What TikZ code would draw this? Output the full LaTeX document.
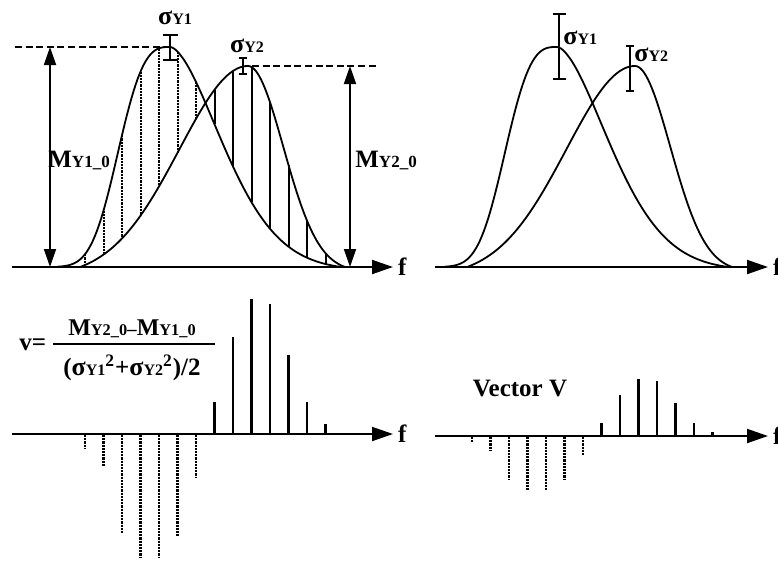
\documentclass[tikz,border=0pt]{standalone}
\usepackage{fontspec}
\setmainfont{Liberation Serif}
\usetikzlibrary{arrows.meta}
\newcommand{\Mlab}[1]{{\fontsize{12.5}{14}\selectfont M}{\fontsize{8.5}{10}\selectfont #1}}
\newcommand{\Slab}[1]{{\fontsize{13}{14}\selectfont σ}{\fontsize{8}{9}\selectfont #1}}

\begin{document}
\begin{tikzpicture}[x=0.5pt,y=-0.5pt,
  declare function={
    ya(\t)=(\t<112) ? exp(-((abs(\t-112)+0.01)/60)^3) : (exp(-((abs(\t-112)+0.01)/73.7)^1.7)-0.015)/0.985;
    yb(\t)=(\t<190) ? (exp(-((abs(\t-190)+0.01)/97)^2)-0.05)/0.95 : (exp(-((abs(\t-190)+0.01)/50)^2)-0.023)/0.977;
  },
  curve/.style={line width=0.9pt},
  axis/.style={line width=1pt,-{Triangle[length=10.5pt,width=7pt]}},
  marrow/.style={line width=0.9pt,{Triangle[length=9pt,width=6pt]}-{Triangle[length=9pt,width=6pt]}},
  guide/.style={line width=0.8pt,dash pattern=on 3.5pt off 1.8pt},
  errbar/.style={line width=1.1pt,{Bar[width=#1]}-{Bar[width=#1]}},
  hatchdot/.style={line width=1pt,dash pattern=on 1.1pt off 0.5pt},
  hatch/.style={line width=1pt},
  dotbar/.style={line width=1.3pt,dash pattern=on 1.1pt off 0.5pt},
  solbar/.style={line width=1.3pt},
  lbl/.style={font=\bfseries,inner sep=0pt}]
\useasboundingbox (0,0) rectangle (778,564);

% top left: the two spectra with the hatching between them
\draw[axis] (12,267) -- (393,267) node[lbl,right=2pt,font=\bfseries\fontsize{12.5}{14}\selectfont] (fa) {f};
\draw[curve] plot[domain=0:283,samples=140] ({58+\x},{267-220*ya(\x)});
\draw[curve] plot[domain=22:287,samples=140] ({58+\x},{267-201*yb(\x)});
\foreach \k in {0,...,6}{
  \pgfmathsetmacro{\t}{27+18.5*\k}
  \draw[hatchdot] ({58+\t},{267-220*ya(\t)}) -- ({58+\t},{267-201*yb(\t)});
}
\foreach \k in {7,...,13}{
  \pgfmathsetmacro{\t}{27+18.5*\k}
  \draw[hatch] ({58+\t},{267-220*ya(\t)}) -- ({58+\t},{267-201*yb(\t)});
}
% peak levels
\draw[guide] (15,47) -- (166,47);
\draw[guide] (252,66) -- (378,66);
\draw[marrow] (50,47) -- (50,267);
\draw[marrow] (350,66) -- (350,267);
\node[lbl,anchor=base west] (my1) at (48,167) {\Mlab{Y1\_0}};
\node[lbl,anchor=base west] (my2) at (355,167) {\Mlab{Y2\_0}};
% spread
\draw[errbar=7.5pt] (170,34) -- (170,61);
\draw[errbar=4pt] (243,57) -- (243,75);
\node[lbl] (sy1a) at (175,18) {\Slab{Y1}};
\node[lbl] (sy2a) at (247,46) {\Slab{Y2}};

% top right: same spectra, larger spread
\draw[axis] (435,267) -- (768,267) node[lbl,right=2pt,font=\bfseries\fontsize{12.5}{14}\selectfont] (fb) {f};
\draw[curve] plot[domain=0:283,samples=140] ({445+\x},{267-220*ya(\x)});
\draw[curve] plot[domain=22:287,samples=140] ({445+\x},{267-201*yb(\x)});
\draw[errbar=6.5pt] (559,13) -- (559,80);
\draw[errbar=4pt] (630,45) -- (630,92);
\node[lbl,anchor=west] (sy1b) at (563,38) {\Slab{Y1}};
\node[lbl,anchor=west] (sy2b) at (634,55) {\Slab{Y2}};

% bottom left: formula and bars
\node[lbl,anchor=base west,font=\bfseries\fontsize{12.5}{14}\selectfont] (vdef) at (19,350) {v=};
\draw[line width=0.8pt] (53,344) -- (215,344);
\node[lbl,anchor=base,scale=0.96] (num) at (132,335) {\Mlab{Y2\_0}--\Mlab{Y1\_0}};
\node[lbl,anchor=base] (den) at (132,375) {\fontsize{12.5}{14}\selectfont(\Slab{Y1}\textsuperscript{2}+\Slab{Y2}\textsuperscript{2})/2};
\draw[axis] (12,434) -- (393,434) node[lbl,right=2pt,font=\bfseries\fontsize{12.5}{14}\selectfont] (fc) {f};
\foreach \k/\h in {0/14,1/31,2/98,3/123,4/123,5/101,6/43}{
  \draw[dotbar] ({85+18.5*\k},435) -- ++(0,\h);
}
\foreach \k/\h in {7/32,8/97,9/135,10/130,11/79,12/32,13/10}{
  \draw[solbar] ({85+18.5*\k},434) -- ++(0,-\h);
}

% bottom right: vector V
\node[lbl,font=\bfseries\fontsize{12.5}{14}\selectfont] (vecv) at (520,388) {Vector V};
\draw[axis] (435,436) -- (768,436) node[lbl,right=2pt,font=\bfseries\fontsize{12.5}{14}\selectfont] (fd) {f};
\foreach \k/\h in {0/14,1/31,2/98,3/123,4/123,5/101,6/43}{
  \draw[dotbar] ({472+18.5*\k},437) -- ++(0,{0.43*\h});
}
\foreach \k/\h in {7/32,8/97,9/135,10/130,11/79,12/32,13/10}{
  \draw[solbar] ({472+18.5*\k},436) -- ++(0,{-0.42*\h});
}
\end{tikzpicture}
\end{document}
